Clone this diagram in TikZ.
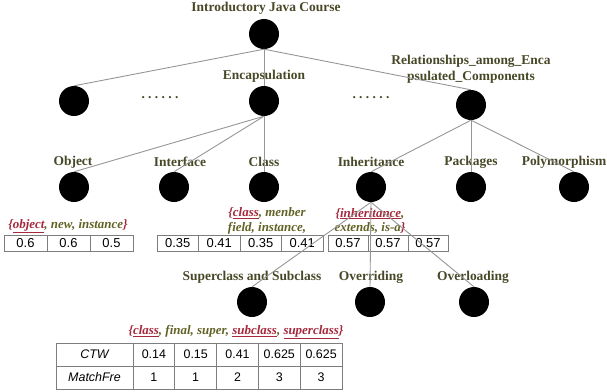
\documentclass[tikz,border=0pt]{standalone}
\usepackage{fontspec}
\setmainfont{Liberation Serif}
\setsansfont{Liberation Sans}
\newfontfamily\dotsfont[LetterSpace=25]{Liberation Serif}
\usepackage{xcolor}
\usepackage{tikz}

\definecolor{labcol}{RGB}{72,72,40}
\definecolor{kwcol}{RGB}{98,98,38}
\definecolor{kwred}{RGB}{165,40,60}
\definecolor{edgecol}{RGB}{150,150,150}
\definecolor{tabcol}{RGB}{125,125,125}

\newcommand{\kw}[1]{{\color{kwred}\underline{#1}}}
\newcommand{\lb}{{\color{kwred}\{}}
\newcommand{\rb}{{\color{kwred}\}}}

\begin{document}
\begin{tikzpicture}[x=1bp,y=-1bp,
    ball/.style={circle,fill=black,minimum size=30bp,inner sep=0pt},
    lab/.style={font=\fontsize{13.5}{16}\selectfont\bfseries,text=labcol,align=center},
    kwd/.style={font=\fontsize{13}{15}\selectfont\bfseries\itshape,text=kwcol,align=center},
    cell/.style={draw=tabcol,line width=0.8bp,inner sep=0pt,minimum height=16bp,
      font=\sffamily\fontsize{13}{15}\selectfont},
    bigcell/.style={cell,minimum height=23bp,font=\sffamily\fontsize{12.5}{15}\selectfont},
    edge/.style={draw=edgecol,line width=0.9bp}]
  \useasboundingbox (0,0) rectangle (607,391);
      % tree nodes
      \node[ball] (J) at (264,34) {};
      \node[ball] (L) at (74,101) {};
      \node[ball] (E) at (264,101) {};
      \node[ball] (R) at (471,105) {};
      \node[ball] (O) at (74,187) {};
      \node[ball] (I) at (174,187) {};
      \node[ball] (C) at (264,187) {};
      \node[ball] (H) at (371,187) {};
      \node[ball] (P) at (471,187) {};
      \node[ball] (Y) at (574,187) {};
      \node[ball] (S) at (252,302) {};
      \node[ball] (V) at (370,302) {};
      \node[ball] (W) at (474,302) {};
        % labels
      \node[lab] (Jt) at (266,8) {Introductory Java Course};
      \node[lab] (Et) at (264,76) {Encapsulation};
      \node[lab] (Rt) at (471,69) {Relationships\_among\_Enca\\psulated\_Components};
      \node[lab] (d1) at (160,98) {\dotsfont ......};
      \node[lab] (d2) at (371,98) {\dotsfont ......};
      \node[lab] (Ot) at (73,162) {Object};
      \node[lab] (It) at (180,162) {Interface};
      \node[lab] (Ct) at (264,162) {Class};
      \node[lab] (Ht) at (371,162) {Inheritance};
      \node[lab] (Pt) at (471,162) {Packages};
      \node[lab] (Yt) at (564,162) {Polymorphism};
      \node[lab] (St) at (252,277) {Superclass and Subclass};
      \node[lab] (Vt) at (371,277) {Overriding};
      \node[lab] (Wt) at (473,277) {Overloading};
        % keywords
      \node[kwd] (Ok) at (68,226) {\lb\kw{object}, new, instance\rb};
      \node[kwd] (Ck) at (267,221) {\lb\kw{class}, menber\\field, instance,};
      \node[kwd] (Hk) at (370,221) {\lb\kw{inheritance},\\extends, is-a\rb};
      \node[kwd] (Sk) at (236,332) {\lb\kw{class}, final, super, \kw{subclass}, \kw{superclass}\rb};
        % tables
      \foreach \v [count=\i] in {0.6,0.6,0.5}
        \node[cell,minimum width=43bp] (a\i) at ({4+43*\i-21.5},243) {\v};
      \foreach \v [count=\i] in {0.35,0.41,0.35,0.41}
        \node[cell,minimum width=41.5bp] (b\i) at ({157+41.5*\i-20.75},243) {\v};
      \foreach \v [count=\i] in {0.57,0.57,0.57}
        \node[cell,minimum width=40bp] (c\i) at ({328+40*\i-20},243) {\v};
      \node[bigcell,minimum width=77bp,font=\sffamily\itshape\fontsize{12.5}{15}\selectfont] (ctw) at (94.5,354.5) {CTW};
      \node[bigcell,minimum width=77bp,font=\sffamily\itshape\fontsize{12.5}{15}\selectfont] (mf) at (94.5,377.5) {MatchFre};
      \foreach \a/\b [count=\i] in {0.14/1,0.15/1,0.41/2,0.625/3,0.625/3}{
        \node[bigcell,minimum width=41.8bp] (w\i) at ({133+41.8*\i-20.9},354.5) {\a};
        \node[bigcell,minimum width=41.8bp] (m\i) at ({133+41.8*\i-20.9},377.5) {\b};
      }
        % edges
      \draw[edge] (J.south) -- (L.north);
      \draw[edge] (J.south) -- (E.north);
      \draw[edge] (J.south) -- (R.north);
      \draw[edge] (E.south) -- (O.north);
      \draw[edge] (E.south) -- (I.north);
      \draw[edge] (E.south) -- (C.north);
      \draw[edge] (R.south) -- (H.north);
      \draw[edge] (R.south) -- (P.north);
      \draw[edge] (R.south) -- (Y.north);
      \draw[edge] (H.south) -- (S.north);
      \draw[edge] (H.south) -- (V.north);
      \draw[edge] (H.south) -- (W.north);
\end{tikzpicture}
\end{document}
